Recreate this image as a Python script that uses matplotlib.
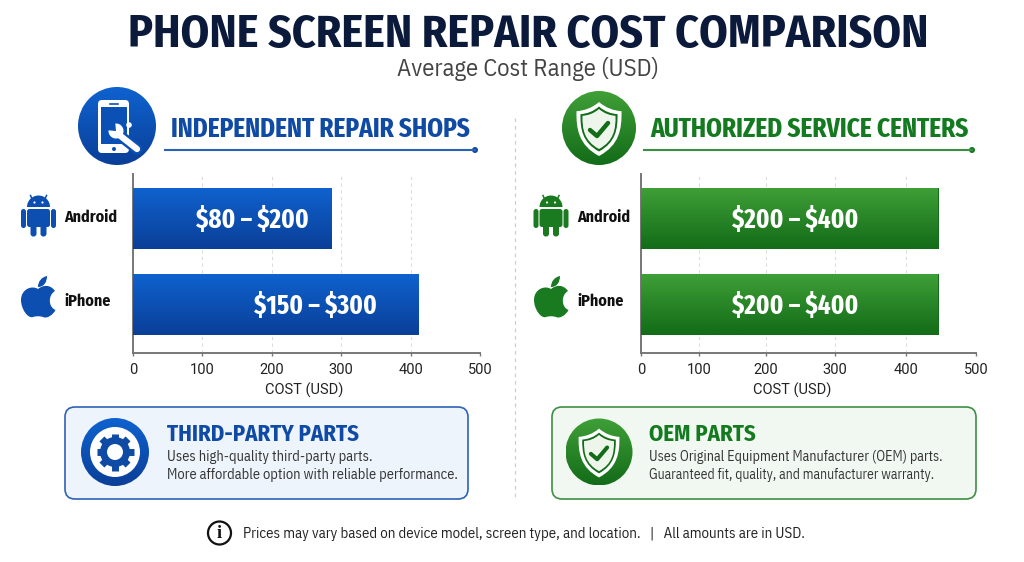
"""Phone screen repair cost comparison infographic."""

import numpy as np
import matplotlib
matplotlib.use("Agg")
import matplotlib.pyplot as plt
from matplotlib.colors import LinearSegmentedColormap
from matplotlib.path import Path as MPath
from matplotlib.patches import Circle, FancyBboxPatch, PathPatch, Rectangle, Wedge

DEVICES = ["Android", "iPhone"]
INDEPENDENT_COST = [286, 412]
AUTHORIZED_COST = [447, 447]
INDEPENDENT_LABELS = ["$80 – $200", "$150 – $300"]
AUTHORIZED_LABELS = ["$200 – $400", "$200 – $400"]
X_TICKS = [0, 100, 200, 300, 400, 500]
# right chart's gridlines are unevenly spaced in the source
AUTH_TICK_POS = [0, 58, 125, 194, 265, 335]

BLUE = "#0f4aa5"
BLUE_TOP, BLUE_BOT = "#0f62cf", "#0a3f98"
GREEN = "#137a20"
GREEN_TOP, GREEN_BOT = "#3f9f37", "#136c18"
HEAD = ["Fira Sans Condensed", "Roboto Condensed", "Liberation Sans"]
TIGHT = ["Fira Sans Extra Condensed", "Fira Sans Condensed", "Liberation Sans"]
BODY = ["IBM Plex Sans Condensed", "Roboto Condensed", "Liberation Sans"]
AXIS = ["Roboto", "Liberation Sans"]

W, H = 1024, 562
fig = plt.figure(figsize=(W / 100, H / 100), dpi=100, facecolor="white")
canvas = fig.add_axes([0, 0, 1, 1], zorder=5)
canvas.set_xlim(0, W)
canvas.set_ylim(H, 0)
canvas.axis("off")


def gradient(patch, top, bot, extent):
    cmap = LinearSegmentedColormap.from_list("g", [top, bot])
    x0, x1, y0, y1 = extent
    im = canvas.imshow(np.linspace(0, 1, 64)[:, None], cmap=cmap, aspect="auto",
                       extent=(x0, x1, y1, y0), zorder=patch.get_zorder())
    canvas.add_patch(patch)
    patch.set_visible(False)
    im.set_clip_path(patch.get_path(), patch.get_transform())
    canvas.set_xlim(0, W)
    canvas.set_ylim(H, 0)


def disc(cx, cy, r, top, bot):
    gradient(Circle((cx, cy), r, zorder=2), top, bot, (cx - r, cx + r, cy - r, cy + r))


def shape(verts, codes, **kw):
    canvas.add_patch(PathPatch(MPath(verts, codes), **kw))


def android(cx, cy, col):
    c = dict(fc=col, ec="none", zorder=3)
    # y axis is flipped, so wedge 180-360 opens upwards on screen
    canvas.add_patch(Wedge((cx, cy - 9), 11.5, 180, 360, **c))
    for dx in (-8, 8):
        canvas.plot([cx + dx * 0.75, cx + dx], [cy - 16, cy - 20.5], color=col, lw=1.1, zorder=3)
        canvas.add_patch(Circle((cx + dx * 0.5, cy - 13.5), 1.1, fc="white", ec="none", zorder=4))
    canvas.add_patch(FancyBboxPatch((cx - 11.5, cy - 7), 23, 18, boxstyle="round,pad=0,rounding_size=2.5", **c))
    for dx in (-15, 15):
        canvas.add_patch(FancyBboxPatch((cx + dx - 2.5, cy - 7), 5, 19, boxstyle="round,pad=0,rounding_size=2.5", **c))
    for dx in (-5, 5):
        canvas.add_patch(FancyBboxPatch((cx + dx - 3, cy + 6), 6, 14.5, boxstyle="round,pad=0,rounding_size=2.8", **c))


def apple(cx, cy, col):
    C, M, Z = MPath.CURVE4, MPath.MOVETO, MPath.CLOSEPOLY
    pts = [(0, -6), (5, -10), (12, -11), (17, -4), (10, 0), (10, 12), (17.5, 15),
           (15, 20), (9, 24), (5, 22), (2, 21), (-2, 21), (-5, 22),
           (-10, 24), (-17, 14), (-17, 5), (-17, -6), (-6, -10), (0, -6), (0, -6)]
    codes = [M] + [C] * 18 + [Z]
    shape([(cx + x, cy + y - 6) for x, y in pts], codes, fc=col, ec="none", zorder=3)
    leaf = [(0, -8), (0, -14), (4, -18), (9, -19), (9, -13), (6, -8), (0, -8), (0, -8)]
    shape([(cx + x, cy + y - 6) for x, y in leaf], [M, C, C, C, C, C, C, Z], fc=col, ec="none", zorder=3)


def shield(cx, cy, hw, hh, **kw):
    C, M, Z = MPath.CURVE4, MPath.MOVETO, MPath.CLOSEPOLY
    pts = [(0, -1), (0.3, -0.78), (0.65, -0.68), (1, -0.66), (1.02, 0.0), (0.9, 0.6), (0, 1),
           (-0.9, 0.6), (-1.02, 0.0), (-1, -0.66), (-0.65, -0.68), (-0.3, -0.78), (0, -1), (0, -1)]
    codes = [M] + [C] * 12 + [Z]
    shape([(cx + x * hw, cy + y * hh) for x, y in pts], codes, **kw)


def shield_badge(cx, cy, r, top, bot):
    disc(cx, cy, r, top, bot)
    k = r / 37
    shield(cx, cy + 1, 22.5 * k, 27 * k, fc="white", ec="none", zorder=3)
    shield(cx, cy + 1, 18.5 * k, 22.5 * k, fc=GREEN_BOT, ec="none", zorder=3)
    shield(cx, cy + 1, 16.5 * k, 20 * k, fc="#eef6ec", ec="none", zorder=3)
    canvas.plot([cx - 9 * k, cx - 2 * k, cx + 9 * k], [cy + 2 * k, cy + 8 * k, cy - 5 * k],
                color=GREEN_BOT, lw=3.2 * k, solid_capstyle="round", solid_joinstyle="round", zorder=4)


def repair_badge(cx, cy, r):
    disc(cx, cy, r, BLUE_TOP, BLUE_BOT)
    canvas.add_patch(FancyBboxPatch((98, 100), 31, 53, boxstyle="round,pad=0,rounding_size=4",
                                    fc="white", ec="none", zorder=3))
    canvas.add_patch(Rectangle((101, 107), 26, 37, fc="#0b51b5", ec="none", zorder=3))
    canvas.plot([110, 118], [103.5, 103.5], color="#0b51b5", lw=1.2, zorder=4)
    canvas.add_patch(Circle((114, 149), 2, fc="#0b51b5", ec="none", zorder=4))
    canvas.plot([118, 137], [134, 149], color="#0b51b5", lw=8, solid_capstyle="round", zorder=4)
    canvas.plot([118, 137], [134, 149], color="white", lw=4.5, solid_capstyle="round", zorder=5)
    canvas.add_patch(Wedge((116, 131), 7.5, 265, 545, fc="white", ec="none", zorder=5))
    canvas.add_patch(Circle((129, 125), 2.8, fc="white", ec="none", zorder=3))


def gear_badge(cx, cy):
    disc(cx, cy, 34, BLUE_TOP, BLUE_BOT)
    canvas.add_patch(Circle((cx, cy), 25, fc="white", ec="none", zorder=3))
    canvas.add_patch(Circle((cx, cy), 15, fc=BLUE, ec="none", zorder=4))
    for a in np.arange(8) * np.pi / 4:
        canvas.plot([cx, cx + 18.5 * np.cos(a)], [cy, cy + 18.5 * np.sin(a)], color=BLUE, lw=5,
                    solid_capstyle="butt", zorder=4)
    canvas.add_patch(Circle((cx, cy), 8, fc="white", ec="none", zorder=5))


def chart(x0, x1, values, labels, top, bot, label_pos, device_x, xlabel_x, tick_pos=None):
    ax = fig.add_axes([x0 / W, 1 - 353 / H, (x1 - x0) / W, 179 / H], zorder=2)
    ax.patch.set_alpha(0)
    if tick_pos is not None:
        ax.set_xscale("function", functions=(lambda v: np.interp(v, X_TICKS, tick_pos),
                                             lambda p: np.interp(p, tick_pos, X_TICKS)))
    bars = ax.barh(range(len(DEVICES)), values, height=0.71, color=bot, zorder=2)
    ax.set_xlim(0, 500)
    ax.set_ylim(1.564, -0.517)
    ax.set_xticks(X_TICKS)
    ax.set_xticklabels([str(t) for t in X_TICKS], fontsize=10.5, family=AXIS, color="#222222")
    ax.set_yticks(range(len(DEVICES)))
    ax.set_yticklabels([])
    # device names sit a little above the bar centres, so they are placed by hand
    for name, dy in zip(DEVICES, (217, 301)):
        canvas.text(device_x, dy, name, fontsize=11.5, fontweight="bold", family=HEAD,
                    color="#111111", va="center")
    ax.tick_params(axis="y", length=0)
    ax.tick_params(axis="x", length=2, width=1, color="#777777", pad=5)
    ax.set_xlabel("COST (USD)", fontsize=10.5, family=AXIS, color="#222222")
    ax.xaxis.set_label_coords((xlabel_x - x0) / (x1 - x0), -0.165)
    ax.xaxis.grid(True, linestyle=(0, (3, 3)), color="#dddddd", lw=0.8, zorder=0)
    ax.set_axisbelow(True)
    for side in ("top", "right"):
        ax.spines[side].set_visible(False)
    for side in ("left", "bottom"):
        ax.spines[side].set_color("#777777")
        ax.spines[side].set_linewidth(1.4)
    cmap = LinearSegmentedColormap.from_list("bar", [top, bot])
    for bar in bars:
        grad = ax.imshow(np.linspace(0, 1, 64)[:, None], cmap=cmap, aspect="auto", zorder=3,
                         extent=(0, bar.get_width(), bar.get_y() + bar.get_height(), bar.get_y()))
        grad.set_clip_path(bar)
    ax.set_xlim(0, 500)
    ax.set_ylim(1.564, -0.517)
    for (lx, ly), s in zip(label_pos, labels):
        canvas.text(lx, ly, s, color="white", fontsize=19.5, fontweight="bold", family=TIGHT,
                    ha="center", va="center", zorder=6, parse_math=False)


# titles
canvas.text(528, 35, "PHONE SCREEN REPAIR COST COMPARISON", fontsize=33, fontweight="bold", family=HEAD,
            color="#0b1a3a", ha="center", va="center")
canvas.text(528, 69, "Average Cost Range (USD)", fontsize=17.7, family=BODY, color="#444444",
            ha="center", va="center")
canvas.plot([515, 515], [118, 500], color="#cfcfcf", lw=0.9, linestyle=(0, (3, 3)))

# panel headers
repair_badge(117, 126, 39)
canvas.text(171, 129, "INDEPENDENT REPAIR SHOPS", fontsize=19.8, fontweight="bold", family=TIGHT,
            color=BLUE, va="center")
canvas.plot([165, 475], [150, 150], color="#2a62b8", lw=1.5)
canvas.add_patch(Circle((475, 150), 3, fc=BLUE, ec="none"))

shield_badge(599, 128, 37, GREEN_TOP, GREEN_BOT)
canvas.text(650, 129, "AUTHORIZED SERVICE CENTERS", fontsize=19.8, fontweight="bold", family=TIGHT,
            color=GREEN, va="center")
canvas.plot([644, 972], [150, 150], color="#3b8f41", lw=1.5)
canvas.add_patch(Circle((972, 150), 3, fc=GREEN, ec="none"))

# charts
chart(133, 480, INDEPENDENT_COST, INDEPENDENT_LABELS, BLUE_TOP, BLUE_BOT,
      [(252, 220), (315, 306)], 64.5, 304)
chart(641, 976, AUTHORIZED_COST, AUTHORIZED_LABELS, GREEN_TOP, GREEN_BOT,
      [(795, 220), (795, 306)], 577.5, 792, AUTH_TICK_POS)

android(38.5, 216, "#0d4fb0")
apple(38, 301, "#0d4fb0")
android(551, 216, "#1a7a20")
apple(551, 301, "#1a7a20")

# parts boxes
canvas.add_patch(FancyBboxPatch((65, 407), 403, 92, boxstyle="round,pad=0,rounding_size=10",
                                fc="#eef4fc", ec="#2f62b5", lw=1.2, zorder=1))
gear_badge(115, 452)
canvas.text(167, 434, "THIRD-PARTY PARTS", fontsize=16.4, fontweight="bold", family=HEAD, color=BLUE, va="center")
canvas.text(167, 457, "Uses high-quality third-party parts.", fontsize=10.4, family=BODY, color="#333333", va="center")
canvas.text(167, 475, "More affordable option with reliable performance.", fontsize=10.4, family=BODY,
            color="#333333", va="center")

canvas.add_patch(FancyBboxPatch((552, 407), 424, 92, boxstyle="round,pad=0,rounding_size=10",
                                fc="#f1f8f1", ec="#3f8f45", lw=1.2, zorder=1))
shield_badge(599, 452, 33.5, GREEN_TOP, GREEN_BOT)
canvas.text(649, 434, "OEM PARTS", fontsize=16.4, fontweight="bold", family=HEAD, color=GREEN, va="center")
canvas.text(649, 457, "Uses Original Equipment Manufacturer (OEM) parts.", fontsize=10.05, family=BODY,
            color="#333333", va="center")
canvas.text(649, 475, "Guaranteed fit, quality, and manufacturer warranty.", fontsize=9.9, family=BODY,
            color="#333333", va="center")

# footer
canvas.add_patch(Circle((219.5, 533), 11.5, fc="white", ec="#111111", lw=1.6))
canvas.text(219.5, 533.5, "i", fontsize=13, fontweight="bold", family="Liberation Serif", color="#111111",
            ha="center", va="center")
canvas.text(243, 534, "Prices may vary based on device model, screen type, and location.   |   All amounts are in USD.",
            fontsize=10.7, family=BODY, color="#222222", va="center")

fig.savefig("out.png", dpi=100)
plt.close(fig)
